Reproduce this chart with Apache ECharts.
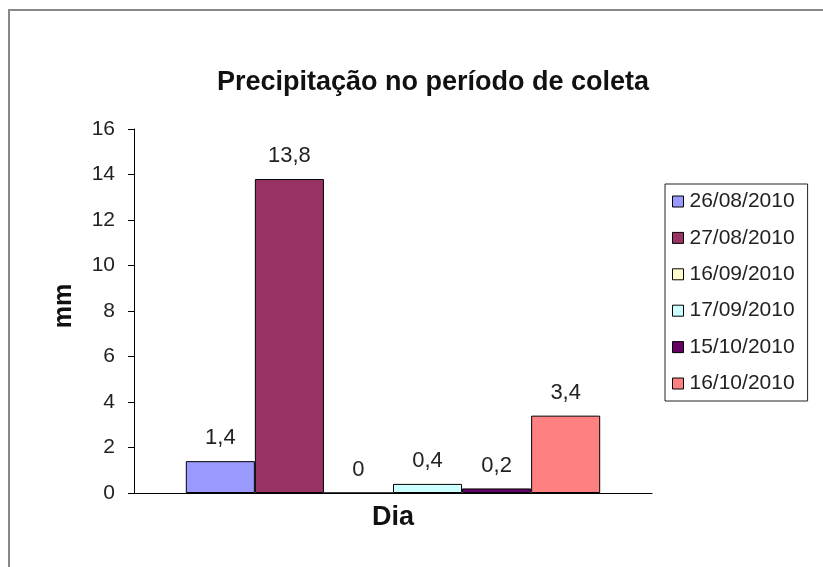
<!DOCTYPE html>
<html>
<head>
<meta charset="utf-8">
<script src="https://cdn.jsdelivr.net/npm/echarts@6/dist/echarts.min.js"></script>
<style>
  html, body { margin: 0; padding: 0; background: #fff; }
  #chart { width: 823px; height: 567px; }
</style>
</head>
<body>
<div id="chart"></div>
<script>
// Rainfall (mm) recorded on each sampling day
const categories = ['Dia'];
const days = ['26/08/2010', '27/08/2010', '16/09/2010', '17/09/2010', '15/10/2010', '16/10/2010'];
const rainfall = [1.4, 13.8, 0, 0.4, 0.2, 3.4];
const colors = ['#9999FF', '#993366', '#FFFFCC', '#CCFFFF', '#660066', '#FF8080'];
const yTicks = { min: 0, max: 16, interval: 2 };

const font = 'Arial, "Liberation Sans", sans-serif';

const series = days.map((d, i) => ({
  name: d,
  type: 'bar',
  data: [rainfall[i]],
  barGap: '0%',
  barCategoryGap: '20%',
  itemStyle: { color: colors[i], borderColor: '#000', borderWidth: 1 },
  label: {
    show: true,
    position: 'top',
    distance: 12,
    fontFamily: font,
    fontSize: 22,
    color: '#222',
    formatter: p => String(p.value).replace('.', ',')
  }
}));

const chart = echarts.init(document.getElementById('chart'), null, { renderer: 'canvas' });
chart.setOption({
  animation: false,
  backgroundColor: '#fff',
  color: colors,
  title: {
    text: 'Precipitação no período de coleta',
    left: 428,
    top: 64,
    textAlign: 'center',
    textStyle: { fontFamily: font, fontSize: 27, fontWeight: 'bold', color: '#111' }
  },
  legend: {
    orient: 'vertical',
    left: 665,
    top: 184,
    padding: [7, 13, 7, 7],
    borderColor: '#222',
    borderWidth: 1,
    itemWidth: 11,
    itemHeight: 11,
    itemGap: 15.4,
    icon: 'rect',
    itemStyle: { borderColor: '#000', borderWidth: 1 },
    textStyle: { fontFamily: font, fontSize: 21, color: '#222', lineHeight: 20, padding: [0, 0, 0, 1] }
  },
  grid: { left: 134, right: 171, top: 129, bottom: 74, containLabel: false },
  xAxis: {
    type: 'category',
    data: categories,
    name: 'Dia',
    nameLocation: 'middle',
    nameGap: 11,
    nameTextStyle: { fontFamily: font, fontSize: 27, fontWeight: 'bold', color: '#111' },
    axisLine: { lineStyle: { color: '#000', width: 1 } },
    axisTick: { show: false },
    axisLabel: { show: false }
  },
  yAxis: {
    type: 'value',
    min: yTicks.min,
    max: yTicks.max,
    interval: yTicks.interval,
    name: 'mm',
    nameLocation: 'middle',
    nameGap: 57,
    nameRotate: 90,
    nameTextStyle: { fontFamily: font, fontSize: 25, fontWeight: 'bold', color: '#111', padding: [0, 0, 0, 10] },
    axisLine: { show: true, lineStyle: { color: '#000', width: 1 } },
    axisTick: { show: true, length: 6, lineStyle: { color: '#000' } },
    axisLabel: { fontFamily: font, fontSize: 21, color: '#222', margin: 19 },
    splitLine: { show: false }
  },
  graphic: [{
    type: 'rect',
    shape: { x: 9, y: 10, width: 900, height: 700 },
    style: { fill: 'none', stroke: '#888', lineWidth: 2 },
    silent: true
  }],
  series: series
});
</script>
</body>
</html>
